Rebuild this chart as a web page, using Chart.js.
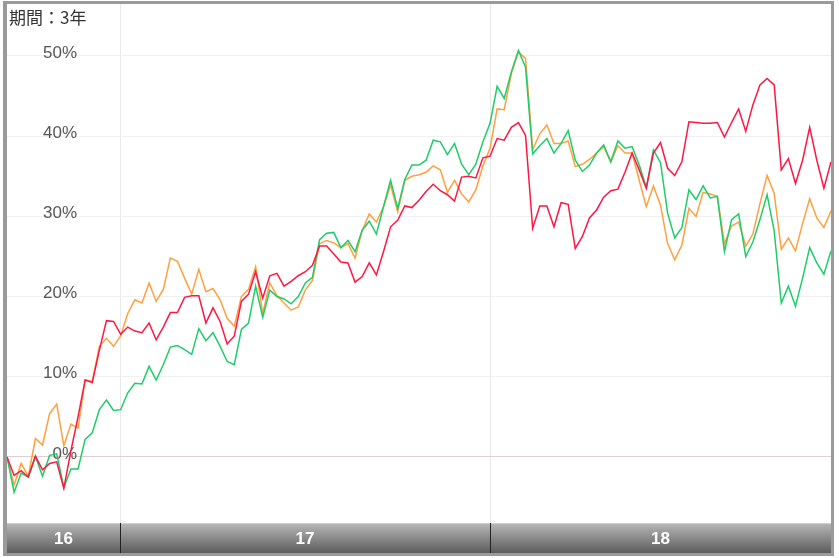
<!DOCTYPE html>
<html>
<head>
<meta charset="utf-8">
<script src="https://cdn.jsdelivr.net/npm/chart.js"></script>
<style>
  html, body { margin: 0; padding: 0; background: #fff; }
  #wrap { position: relative; width: 839px; height: 558px; }
</style>
</head>
<body>
<div id="wrap"><canvas id="c" width="839" height="558"></canvas></div>
<script>
// ---- data ----
const titleText = '期間：3年';
const startDate = '2016-09-12';   // first weekly point
const yearLabels = ['16', '17', '18'];
const yTicks = [0, 10, 20, 30, 40, 50];

const seriesRed = [
  0, -2.3, -1.7, -2.5, 0.1, -1.6, -0.8, -0.6, -3.9, 0.8,
  5.0, 9.6, 9.3, 13.3, 17.0, 16.9, 15.3, 16.2, 15.7, 15.5,
  16.7, 14.6, 16.2, 18.0, 18.0, 19.9, 20.1, 20.1, 16.7, 18.6,
  16.9, 14.1, 15.1, 19.4, 20.3, 23.1, 19.8, 22.6, 22.9, 21.3,
  21.9, 22.6, 23.1, 23.9, 26.3, 26.3, 25.3, 24.3, 24.2, 21.8,
  22.5, 24.2, 22.7, 25.6, 28.7, 29.5, 31.3, 31.1, 32.0, 33.1,
  34.0, 33.2, 32.7, 31.9, 34.9, 35.0, 34.8, 37.3, 37.5, 39.7,
  39.5, 41.1, 41.7, 40.1, 28.5, 31.3, 31.3, 28.7, 31.7, 31.5,
  26.0, 27.5, 29.8, 30.8, 32.4, 33.2, 33.4, 35.5, 37.9, 35.8,
  33.5, 37.9, 39.2, 36.0, 35.1, 36.8, 41.8, 41.7, 41.6, 41.6,
  41.7, 39.9, 41.7, 43.4, 40.6, 43.9, 46.4, 47.2, 46.4, 35.8,
  37.2, 34.1, 37.0, 41.1, 37.0, 33.5, 36.8
];
const seriesOrange = [
  0, -3.5, -0.8, -2.4, 2.3, 1.5, 5.4, 6.6, 1.4, 4.1,
  3.6, 9.6, 9.4, 13.8, 14.8, 13.8, 15.1, 17.9, 19.6, 19.2,
  21.7, 19.4, 20.9, 24.8, 24.4, 22.3, 20.3, 23.4, 20.6, 21.0,
  19.6, 17.3, 16.3, 20.0, 20.9, 23.7, 17.9, 21.7, 20.1, 19.2,
  18.3, 18.7, 20.8, 22.0, 26.6, 27.0, 26.7, 26.1, 26.6, 24.8,
  28.2, 30.3, 29.3, 31.2, 33.9, 30.6, 34.5, 35.0, 35.2, 35.5,
  36.3, 35.8, 33.0, 34.5, 32.8, 31.8, 33.3, 36.3, 38.5, 43.4,
  43.3, 47.8, 50.5, 49.7, 38.3, 40.3, 41.4, 39.1, 39.1, 39.4,
  36.2, 36.5, 37.1, 37.9, 38.7, 36.8, 38.8, 37.9, 37.9, 34.5,
  31.2, 33.8, 31.4, 26.6, 24.6, 26.4, 31.0, 30.0, 33.0, 32.8,
  32.5, 26.6, 28.8, 29.3, 26.3, 27.8, 31.6, 35.1, 32.9, 25.9,
  27.3, 25.7, 29.1, 32.2, 29.8, 28.6, 30.7
];
const seriesGreen = [
  0, -4.4, -2.0, -2.5, 0.1, -2.4, 0.2, 0.4, -3.8, -1.5,
  -1.5, 2.2, 3.0, 5.9, 7.1, 5.8, 5.9, 8.0, 9.2, 9.1,
  11.3, 9.6, 11.5, 13.7, 13.9, 13.4, 12.8, 16.0, 14.5, 15.5,
  13.8, 11.9, 11.5, 15.9, 16.7, 21.3, 17.4, 20.8, 20.0, 19.7,
  19.1, 20.0, 21.7, 22.4, 27.1, 27.9, 28.0, 26.1, 27.0, 25.6,
  28.3, 29.4, 27.8, 31.2, 34.5, 31.0, 34.6, 36.4, 36.4, 37.0,
  39.5, 39.3, 37.7, 39.1, 36.5, 35.2, 36.5, 39.3, 41.6, 46.2,
  44.7, 48.0, 50.7, 48.6, 37.8, 38.8, 39.7, 37.9, 39.1, 40.7,
  37.0, 35.6, 36.4, 37.9, 38.9, 36.8, 39.4, 38.5, 38.7, 36.4,
  33.6, 38.3, 36.7, 30.4, 27.3, 28.6, 33.3, 32.1, 33.8, 32.3,
  32.5, 25.6, 29.6, 30.3, 25.0, 26.8, 29.6, 32.7, 28.2, 19.2,
  21.3, 18.8, 22.3, 26.1, 24.2, 22.8, 25.7
];

// ---- derived ----
const WEEK = 7 * 24 * 3600 * 1000;
const t0 = new Date(startDate + 'T00:00:00Z').getTime();
const nPts = seriesRed.length;
// positions of Jan 1 of each following year, in week-index units
const yearBounds = [2017, 2018].map(y => (Date.UTC(y, 0, 1) - t0) / WEEK);
const toXY = arr => arr.map((v, i) => ({ x: i, y: v }));

const decor = {
  id: 'decor',
  beforeDraw(chart) {
    const { ctx, chartArea: a, scales: { x } } = chart;
    ctx.save();
    ctx.fillStyle = '#ffffff';
    ctx.fillRect(0, 0, chart.width, chart.height);
    ctx.strokeStyle = '#e9e9e9';
    ctx.lineWidth = 1;
    yearBounds.forEach(v => {
      const px = Math.round(x.getPixelForValue(v)) + 0.5;
      ctx.beginPath(); ctx.moveTo(px, a.top); ctx.lineTo(px, a.bottom); ctx.stroke();
    });
    ctx.restore();
  },
  beforeDatasetsDraw(chart) {
    const { ctx, chartArea: a, scales: { y } } = chart;
    ctx.save();
    ctx.font = '17px "Liberation Sans", Arial, sans-serif';
    ctx.fillStyle = '#555555';
    ctx.textAlign = 'right';
    ctx.textBaseline = 'middle';
    yTicks.forEach(v => {
      ctx.fillText(v + '%', a.left + 70, y.getPixelForValue(v) - 3);
    });
    ctx.restore();
  },
  afterDraw(chart) {
    const { ctx, chartArea: a, scales: { x } } = chart;
    ctx.save();
    // title
    ctx.font = '17px "Noto Sans CJK JP", sans-serif';
    ctx.fillStyle = '#333333';
    ctx.textAlign = 'left';
    ctx.textBaseline = 'middle';
    ctx.fillText(titleText, a.left + 2, a.top + 14);
    // bottom year bar
    const top = a.bottom, h = 30;
    const g = ctx.createLinearGradient(0, top, 0, top + h);
    g.addColorStop(0, '#b8b8b8');
    g.addColorStop(1, '#5c5c5c');
    ctx.fillStyle = g;
    ctx.fillRect(a.left, top, a.right - a.left, h);
    ctx.fillStyle = 'rgba(255,255,255,0.35)';
    ctx.fillRect(a.left, top, a.right - a.left, 1);
    const edges = [a.left, ...yearBounds.map(v => Math.round(x.getPixelForValue(v))), a.right];
    ctx.strokeStyle = '#222222';
    ctx.lineWidth = 1;
    yearBounds.forEach(v => {
      const px = Math.round(x.getPixelForValue(v)) + 0.5;
      ctx.beginPath(); ctx.moveTo(px, top); ctx.lineTo(px, top + h); ctx.stroke();
    });
    ctx.font = 'bold 17px "Liberation Sans", Arial, sans-serif';
    ctx.fillStyle = '#ffffff';
    ctx.textAlign = 'center';
    ctx.textBaseline = 'middle';
    yearLabels.forEach((lab, i) => {
      ctx.fillText(lab, (edges[i] + edges[i + 1]) / 2, top + h / 2 + 1);
    });
    // outer frame
    ctx.fillStyle = '#9a9a9a';
    ctx.fillRect(3, 1, 4, 555);
    ctx.fillRect(3, 1, 831, 3);
    ctx.fillRect(831, 1, 3, 555);
    ctx.fillRect(3, 553, 831, 3);
    ctx.restore();
  }
};

new Chart(document.getElementById('c'), {
  type: 'line',
  data: {
    datasets: [
      { label: 'A', data: toXY(seriesRed), borderColor: '#ff1744', borderWidth: 1.5 },
      { label: 'B', data: toXY(seriesGreen), borderColor: '#1fcc6a', borderWidth: 1.5 },
      { label: 'C', data: toXY(seriesOrange), borderColor: '#ffa040', borderWidth: 1.5 }
    ]
  },
  options: {
    responsive: false,
    animation: false,
    devicePixelRatio: 1,
    layout: { padding: { left: 7, right: 8, top: 4, bottom: 35 } },
    elements: { point: { radius: 0 }, line: { tension: 0 } },
    plugins: { legend: { display: false }, tooltip: { enabled: false }, title: { display: false } },
    scales: {
      x: { type: 'linear', min: 0, max: nPts - 1, display: false },
      y: {
        type: 'linear', min: -8.23, max: 56.48,
        afterFit(s) { s.width = 0; },
        border: { display: false },
        ticks: { display: false, stepSize: 10, includeBounds: false },
        grid: {
          drawTicks: false,
          color: c => (c.tick && c.tick.value === 0 ? '#e2cfd3' : '#f0f0f0'),
          lineWidth: 1
        }
      }
    }
  },
  plugins: [decor]
});
</script>
</body>
</html>
